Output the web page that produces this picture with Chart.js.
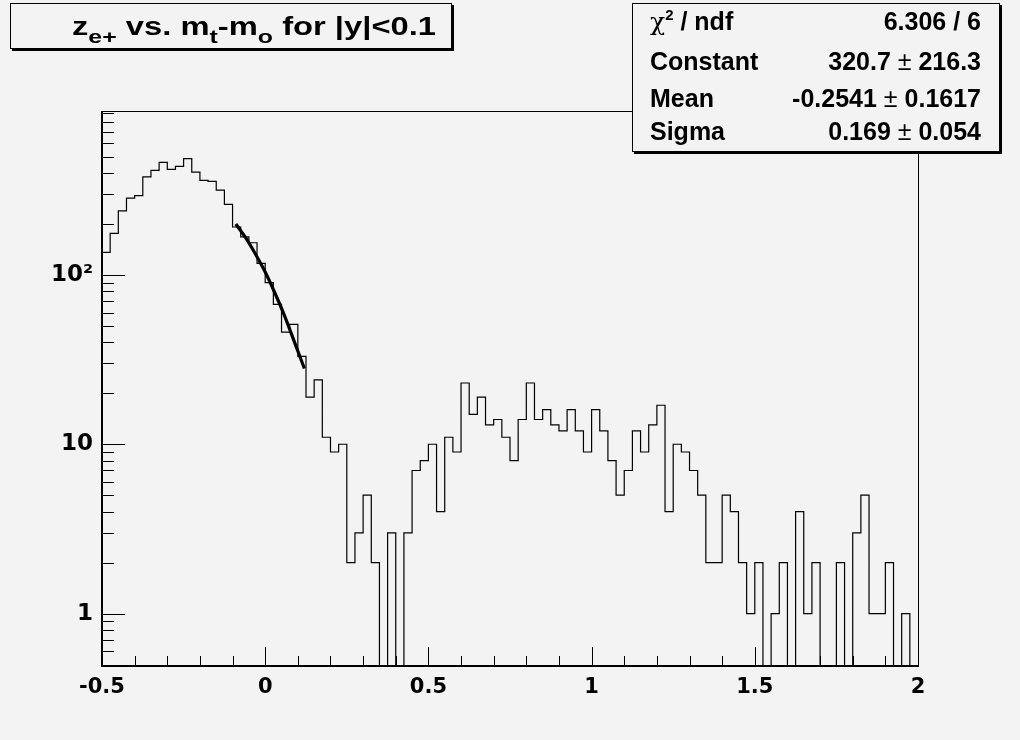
<!DOCTYPE html>
<html>
<head>
<meta charset="utf-8">
<script src="https://cdn.jsdelivr.net/npm/chart.js@4.4.1/dist/chart.umd.min.js"></script>
<style>
    html, body { margin: 0; padding: 0; background: #f3f3f3; }
    #wrap { position: relative; width: 1020px; height: 740px; overflow: hidden; }
    #chart { position: absolute; left: 0; top: 0; }
    .pave {
        position: absolute; background: #f3f3f3;
        border: 1px solid #000; box-shadow: 2px 2px 0 #000;
        font-family: "Liberation Sans", Arial, sans-serif; font-weight: bold; color: #000;
    }
    #title { left: 10px; top: 3px; width: 440px; height: 44px; }
    #title-text {
        position: absolute; left: 61px; top: 10px; white-space: nowrap;
        font-size: 25px; line-height: 25px; transform-origin: 0 0;
    }
    .sb { font-size: 19px; position: relative; top: 8px; }
    #stats { left: 632px; top: 3px; width: 366px; height: 147px; }
    .row {
        position: absolute; left: 17px; right: 18px; height: 25px;
        font-size: 25px; line-height: 25px; white-space: nowrap;
    }
    .row .v { position: absolute; right: 0; top: 0; }
    .pm { font-weight: normal; }
    .chi { font-weight: normal; font-family: "DejaVu Serif", serif; font-size: 25px; }
    .sup { font-size: 15px; position: relative; top: -10px; }
</style>
</head>
<body>
<div id="wrap">
    <canvas id="chart" width="1020" height="740"></canvas>
    <div class="pave" id="title">
        <span id="title-text">z<span class="sb">e+</span> vs. m<span class="sb">t</span>-m<span class="sb">o</span> for |y|&lt;0.1</span>
    </div>
    <div class="pave" id="stats">
        <div class="row" style="top:5px"><span class="chi">χ</span><span class="sup">2</span> / ndf<span class="v">6.306 / 6</span></div>
        <div class="row" style="top:45px">Constant<span class="v">320.7<span class="pm"> ± </span>216.3</span></div>
        <div class="row" style="top:82px">Mean<span class="v">-0.2541<span class="pm"> ± </span>0.1617</span></div>
        <div class="row" style="top:115px">Sigma<span class="v">0.169<span class="pm"> ± </span>0.054</span></div>
    </div>
</div>
<script>
const binLow = -0.5;
const binWidth = 0.025;
const counts = [
    136, 176, 239, 284, 294, 380, 415, 462, 420, 438,
    486, 405, 362, 357, 317, 261, 192, 168, 155, 117,
    90, 67, 46, 51, 33, 19, 24, 11, 9, 10,
    2, 3, 5, 2, 0, 3, 0, 3, 7, 8,
    10, 4, 11, 9, 23, 15, 19, 13, 14, 11,
    8, 14, 23, 14, 16, 13, 12, 16, 12, 9,
    16, 12, 8, 5, 7, 12, 9, 13, 17, 4,
    10, 9, 7, 5, 2, 2, 5, 4, 2, 1,
    2, 0, 1, 2, 0, 4, 1, 2, 0, 0,
    2, 0, 3, 5, 1, 1, 2, 0, 1, 0
];

// curva do ajuste gaussiano
const fitX = [-0.09, -0.06, -0.03, 0, 0.03, 0.06, 0.09, 0.12];
const fitY = [200, 166, 133, 104, 78, 57, 40, 28];

// eixos
const xMin = -0.5, xMax = 2;
const yMin = 0.49, yMax = 930;
const xTickVals = [-0.5, 0, 0.5, 1, 1.5, 2];
const xTickLabels = ['-0.5', '0', '0.5', '1', '1.5', '2'];
const yTickVals = [1, 10, 100];
const yTickLabels = ['1', '10', '10²'];

// monta os pontos em degrau (borda esquerda de cada bin + borda final)
const histPoints = counts.map((c, i) => ({ x: binLow + i * binWidth, y: c > 0 ? c : yMin }));
histPoints.push({ x: binLow + counts.length * binWidth, y: histPoints[histPoints.length - 1].y });

const fitPoints = fitX.map((x, i) => ({ x: x, y: fitY[i] }));

// moldura + ticks internos no estilo ROOT
const framePlugin = {
    id: 'frame',
    afterDatasetsDraw(chart) {
        const ctx = chart.ctx;
        const a = chart.chartArea;
        const xs = chart.scales.x, ys = chart.scales.y;
        ctx.save();
        ctx.strokeStyle = '#000';
        ctx.lineWidth = 1;
        ctx.strokeRect(a.left + 0.5, a.top + 0.5, a.right - a.left, a.bottom - a.top);
        ctx.lineWidth = 2;
        ctx.beginPath();
        ctx.moveTo(a.left, a.top);
        ctx.lineTo(a.left, a.bottom);
        ctx.lineTo(a.right + 1, a.bottom);
        ctx.stroke();

        ctx.lineWidth = 1;
        ctx.beginPath();
        // ticks do eixo x: 0.1 menores, 0.5 maiores
        for (let k = 0; k <= 25; k++) {
            const v = xMin + k * 0.1;
            const px = Math.round(xs.getPixelForValue(v)) + 0.5;
            const len = (k % 5 === 0) ? 19 : 10;
            ctx.moveTo(px, a.bottom);
            ctx.lineTo(px, a.bottom - len);
        }
        // ticks do eixo y (log)
        for (let dec = 0.1; dec <= 100; dec *= 10) {
            for (let m = 1; m <= 9; m++) {
                const v = m * dec;
                if (v < yMin || v > yMax) continue;
                const py = Math.round(ys.getPixelForValue(v)) + 0.5;
                const len = (m === 1) ? 23 : 12;
                ctx.moveTo(a.left, py);
                ctx.lineTo(a.left + len, py);
            }
        }
        ctx.stroke();
        ctx.restore();
    }
};

new Chart(document.getElementById('chart').getContext('2d'), {
    type: 'line',
    data: {
        datasets: [
            {
                data: histPoints,
                stepped: 'before',
                borderColor: '#000',
                borderWidth: 1.2,
                pointRadius: 0,
                fill: false
            },
            {
                data: fitPoints,
                borderColor: '#000',
                borderWidth: 3.2,
                pointRadius: 0,
                cubicInterpolationMode: 'monotone',
                fill: false
            }
        ]
    },
    options: {
        responsive: false,
        animation: false,
        devicePixelRatio: 1,
        layout: { padding: { top: 111, right: 102, left: 0, bottom: 0 } },
        plugins: { legend: { display: false }, tooltip: { enabled: false } },
        scales: {
            x: {
                type: 'linear',
                min: xMin,
                max: xMax,
                grid: { display: false, drawTicks: false },
                border: { display: false },
                afterBuildTicks: s => { s.ticks = xTickVals.map(v => ({ value: v })); },
                afterFit: s => { s.height = 74; },
                ticks: {
                    color: '#000',
                    font: { family: '"DejaVu Sans", sans-serif', size: 21, weight: 'bold' },
                    padding: 9,
                    maxRotation: 0,
                    autoSkip: false,
                    callback: v => xTickLabels[xTickVals.indexOf(v)]
                }
            },
            y: {
                type: 'logarithmic',
                min: yMin,
                max: yMax,
                grid: { display: false, drawTicks: false },
                border: { display: false },
                afterBuildTicks: s => { s.ticks = yTickVals.map(v => ({ value: v })); },
                afterFit: s => { s.width = 102; },
                ticks: {
                    color: '#000',
                    font: { family: '"DejaVu Sans", sans-serif', size: 23, weight: 'bold' },
                    padding: 9,
                    autoSkip: false,
                    callback: v => yTickLabels[yTickVals.indexOf(v)]
                }
            }
        }
    },
    plugins: [framePlugin]
});

// o título do ROOT aparece esticado na horizontal
const titleEl = document.getElementById('title-text');
titleEl.style.transform = 'scaleX(' + (364 / titleEl.offsetWidth) + ')';
</script>
</body>
</html>
